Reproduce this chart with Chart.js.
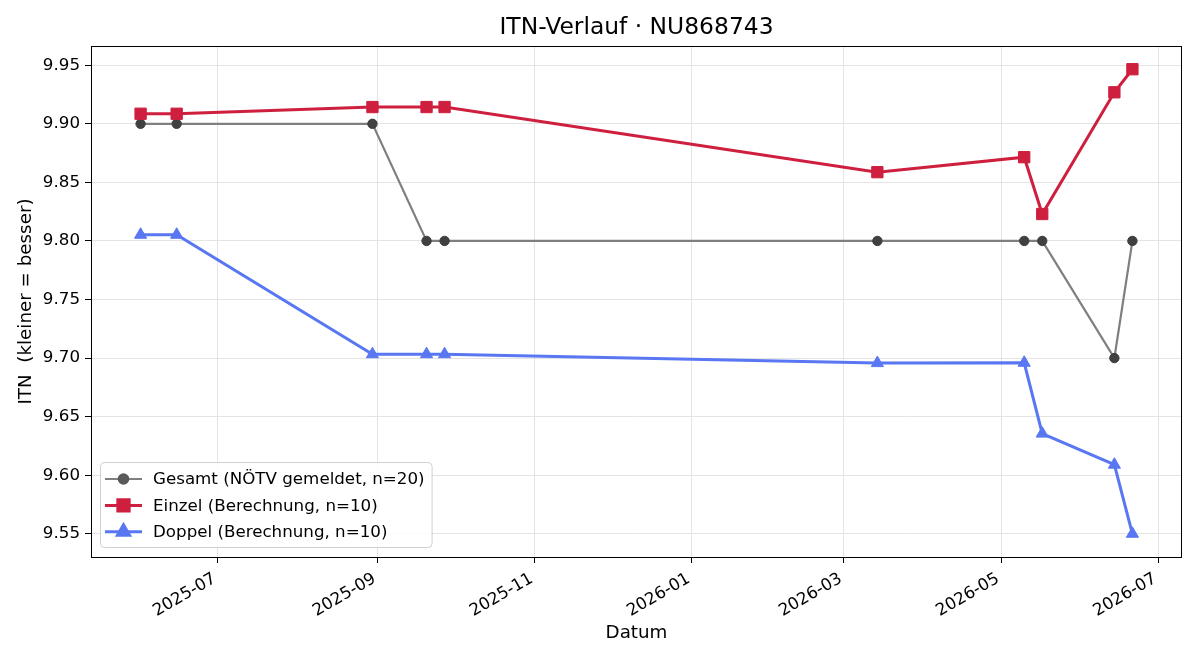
<!DOCTYPE html>
<html><head><meta charset="utf-8">
<script src="https://cdn.jsdelivr.net/npm/chart.js@4.4.1/dist/chart.umd.min.js"></script>
<style>html,body{margin:0;padding:0;background:#fff;} #wrap{width:1200px;height:660px;position:relative;}</style>
</head><body><div id="wrap"><canvas id="c" width="1200" height="660"></canvas></div>
<script>
// ---- data ----
const dates = ['2025-06-01','2025-06-15','2025-08-30','2025-09-20','2025-09-27','2026-03-14','2026-05-10','2026-05-17','2026-06-14','2026-06-21'];
const gesamt = [9.90, 9.90, 9.90, 9.80, 9.80, 9.80, 9.80, 9.80, 9.70, 9.80];
const einzel = [9.9086, 9.9086, 9.9143, 9.9143, 9.9143, 9.8587, 9.8715, 9.8230, 9.9269, 9.9466];
const doppel = [9.8053, 9.8053, 9.7033, 9.7033, 9.7033, 9.6957, 9.6960, 9.6355, 9.6090, 9.5500];
const seriesLabels = ['Gesamt (NÖTV gemeldet, n=20)', 'Einzel (Berechnung, n=10)', 'Doppel (Berechnung, n=10)'];
const xTickLabels = ['2025-07','2025-09','2025-11','2026-01','2026-03','2026-05','2026-07'];
const yTickValues = [9.55, 9.60, 9.65, 9.70, 9.75, 9.80, 9.85, 9.90, 9.95];
const titleText = 'ITN-Verlauf · NU868743';
const xTitle = 'Datum';
const yTitle = 'ITN  (kleiner = besser)';

// ---- helpers ----
const DAY = 86400000;
const toDay = s => Date.parse(s.length === 7 ? s + '-01' : s) / DAY;
const xs = dates.map(toDay);
const pts = arr => arr.map((v, i) => ({x: xs[i], y: v}));
const xMinD = Math.min(...xs), xMaxD = Math.max(...xs);
const allY = gesamt.concat(einzel, doppel);
const yMinD = Math.min(...allY), yMaxD = Math.max(...allY);
const xm = (xMaxD - xMinD) * 0.05, ym = (yMaxD - yMinD) * 0.05;
const FONT = "'DejaVu Sans', sans-serif";
const FS = 16.7;
const FL = 18.3;

const styles = [
  {line: '#7f7f7f', point: '#404040', legendPoint: '#5a5a5a', style: 'circle', r: 4.7, bw: 2.2},
  {line: '#cf1f3f', point: '#cf1f3f', legendPoint: '#cf1f3f', style: 'rect', r: 8, bw: 3},
  {line: '#5977f2', point: '#5977f2', legendPoint: '#5977f2', style: 'triangle', r: 7, bw: 3}
];
const series = [gesamt, einzel, doppel];

const datasets = series.map((s, i) => ({
  label: seriesLabels[i],
  data: pts(s),
  borderColor: styles[i].line,
  backgroundColor: styles[i].point,
  pointBackgroundColor: styles[i].point,
  pointBorderColor: styles[i].point,
  pointBorderWidth: 1,
  pointStyle: styles[i].style,
  pointRadius: styles[i].r,
  pointHoverRadius: styles[i].r,
  borderWidth: styles[i].bw,
  tension: 0,
  order: 3 - i
}));

const frame = {
  id: 'frame',
  afterDatasetsDraw(chart) {
    const {ctx, chartArea: a} = chart;
    ctx.save();
    ctx.strokeStyle = '#000';
    ctx.lineWidth = 1;
    ctx.strokeRect(Math.round(a.left) + 0.5, Math.round(a.top) + 0.5, Math.round(a.right - a.left) - 1, Math.round(a.bottom - a.top));
    ctx.restore();
  }
};

const axesTitle = {
  id: 'axesTitle',
  afterDraw(chart) {
    const {ctx, chartArea: a} = chart;
    ctx.save();
    ctx.font = '23.4px ' + FONT;
    ctx.fillStyle = '#000';
    ctx.textAlign = 'center';
    ctx.textBaseline = 'middle';
    ctx.fillText(titleText, (a.left + a.right) / 2, 28);
    ctx.restore();
  }
};

const legendBox = {
  id: 'legendBox',
  afterDraw(chart) {
    const {ctx, chartArea: a} = chart;
    ctx.save();
    ctx.font = FS + 'px ' + FONT;
    const tw = Math.max(...seriesLabels.map(t => ctx.measureText(t).width));
    const left = a.left + 9, bottom = a.bottom - 10;
    const w = 53 + tw + 7, h = 85;
    const top = bottom - h;
    ctx.beginPath();
    ctx.roundRect(left + 0.5, top + 0.5, w, h, 4);
    ctx.fillStyle = 'rgba(255,255,255,0.85)';
    ctx.fill();
    ctx.strokeStyle = '#d0d0d0';
    ctx.lineWidth = 1;
    ctx.stroke();
    seriesLabels.forEach((lab, i) => {
      const y = top + 17 + i * 26.4;
      const st = styles[i];
      ctx.beginPath();
      ctx.moveTo(left + 5, y); ctx.lineTo(left + 42, y);
      ctx.strokeStyle = st.line; ctx.lineWidth = st.bw; ctx.stroke();
      ctx.fillStyle = st.legendPoint; ctx.strokeStyle = st.legendPoint;
      ctx.beginPath();
      Chart.helpers.drawPoint(ctx, {pointStyle: st.style, radius: st.r, borderWidth: 1}, left + 23.5, y);
      ctx.fillStyle = '#000';
      ctx.textAlign = 'left'; ctx.textBaseline = 'middle';
      ctx.fillText(lab, left + 53, y + 1);
    });
    ctx.restore();
  }
};

new Chart(document.getElementById('c'), {
  type: 'line',
  data: {datasets},
  plugins: [frame, legendBox, axesTitle],
  options: {
    responsive: false,
    animation: false,
    devicePixelRatio: 1,
    layout: {padding: {left: 0, right: 18, top: 46, bottom: 0}},
    plugins: {
      legend: {display: false},
      tooltip: {enabled: false},
      title: {display: false}
    },
    scales: {
      x: {
        type: 'linear',
        min: xMinD - xm, max: xMaxD + xm,
        afterBuildTicks: ax => { ax.ticks = xTickLabels.map(l => ({value: toDay(l)})); },
        afterFit: ax => { ax.height = 103; },
        ticks: {
          minRotation: 30, maxRotation: 30, autoSkip: false, color: '#000', padding: 6, labelOffset: -3,
          font: {family: FONT, size: FS},
          callback: (v) => { const i = xTickLabels.findIndex(l => toDay(l) === v); return i >= 0 ? xTickLabels[i] : ''; }
        },
        grid: {color: '#e4e4e4', lineWidth: 1, tickColor: '#000', tickLength: 6, drawTicks: true},
        border: {display: false},
        title: {display: true, text: xTitle, color: '#000', font: {family: FONT, size: FL}, padding: {top: 0, bottom: 16}}
      },
      y: {
        type: 'linear',
        min: yMinD - ym, max: yMaxD + ym,
        afterBuildTicks: ax => { ax.ticks = yTickValues.map(v => ({value: v})); },
        afterFit: ax => { ax.width = 91; },
        ticks: {color: '#000', padding: 5, font: {family: FONT, size: FS}, callback: v => v.toFixed(2)},
        grid: {color: '#e4e4e4', lineWidth: 1, tickColor: '#000', tickLength: 6},
        border: {display: false},
        title: {display: true, text: yTitle, color: '#000', font: {family: FONT, size: FL}, padding: {top: 15, bottom: 0}}
      }
    }
  }
});
</script></body></html>
